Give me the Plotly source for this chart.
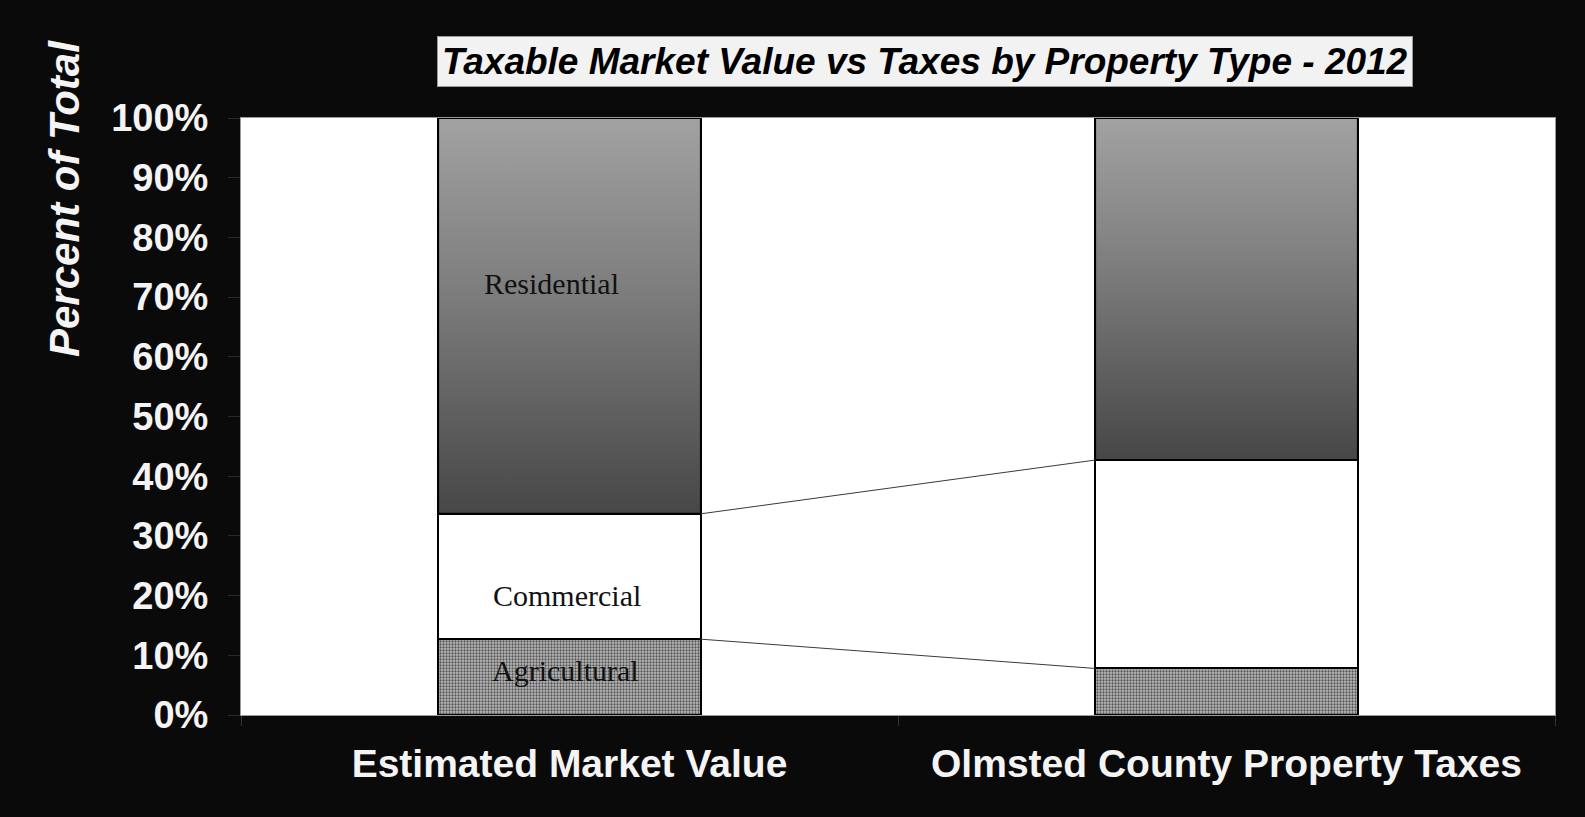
import plotly.graph_objects as go

# ---- data ----
categories = ["Estimated Market Value", "Olmsted County Property Taxes"]
agricultural = [0.127, 0.078]
commercial = [0.210, 0.349]
residential = [0.663, 0.573]
y_tick_vals = [0.0, 0.1, 0.2, 0.3, 0.4, 0.5, 0.6, 0.7, 0.8, 0.9, 1.0]
segment_names = ["Agricultural", "Commercial", "Residential"]
chart_title = "Taxable Market Value vs Taxes by Property Type - 2012"
y_title = "Percent of Total"

# ---- styling ----
BG = "#0a0a0a"
BAR_GAP = 0.6
HALF = (1 - BAR_GAP) / 2
SANS = "Liberation Sans, Arial, sans-serif"
SERIF = "Liberation Serif, Times New Roman, serif"

xs = list(range(len(categories)))
fig = go.Figure()

fig.add_trace(go.Bar(
    x=xs, y=agricultural, name=segment_names[0],
    marker=dict(color="#8a8a8a", line=dict(color="#000", width=2),
                pattern=dict(shape=".", size=3, solidity=0.45,
                             fgcolor="#555555", bgcolor="#bcbcbc", fillmode="replace")),
    hoverinfo="skip"))
fig.add_trace(go.Bar(
    x=xs, y=commercial, name=segment_names[1],
    marker=dict(color="#ffffff", line=dict(color="#000", width=2)),
    hoverinfo="skip"))
fig.add_trace(go.Bar(
    x=xs, y=residential, name=segment_names[2],
    marker=dict(color="#777777", line=dict(color="#000", width=2)),
    hoverinfo="skip"))

# gradient overlay for the residential segments (one per bar)
for i in xs:
    base = agricultural[i] + commercial[i]
    top = base + residential[i]
    fig.add_trace(go.Scatter(
        x=[i - HALF, i + HALF, i + HALF, i - HALF, i - HALF],
        y=[base, base, top, top, base],
        mode="lines", fill="toself",
        line=dict(color="#000", width=2),
        fillgradient=dict(type="vertical",
                          colorscale=[[0, "#474747"], [0.55, "#7c7c7c"], [1, "#a2a2a2"]]),
        hoverinfo="skip", showlegend=False))

# connector lines between segment boundaries
cum1 = [agricultural[i] for i in xs]
cum2 = [agricultural[i] + commercial[i] for i in xs]
for cum in (cum1, cum2):
    fig.add_trace(go.Scatter(
        x=[xs[0] + HALF, xs[1] - HALF], y=[cum[0], cum[1]],
        mode="lines", line=dict(color="#3a3a3a", width=1),
        hoverinfo="skip", showlegend=False))

# segment labels on first bar
label_pos = {"Residential": (0.722, -18), "Commercial": (0.200, -3), "Agricultural": (0.075, -4)}
for name, (yy, xsft) in label_pos.items():
    fig.add_annotation(x=xs[0], y=yy, text=name, showarrow=False, xshift=xsft,
                       font=dict(family=SERIF, size=30, color="#111"))

# title box
fig.add_annotation(xref="paper", yref="paper", x=(925 - 241) / 1314, y=(715 - 61.5) / 597,
                   text=f"<b><i>{chart_title}</i></b>", showarrow=False,
                   xanchor="center", yanchor="middle",
                   font=dict(family=SANS, size=37, color="#000"),
                   bgcolor="#f2f2f2", bordercolor="#9a9a9a", borderwidth=1, borderpad=4)

# y title
fig.add_annotation(xref="paper", yref="paper", x=(64 - 241) / 1314, y=(715 - 199) / 597,
                   text=f"<b><i>{y_title}</i></b>", showarrow=False, textangle=-90,
                   xanchor="center", yanchor="middle",
                   font=dict(family=SANS, size=42, color="#f4f4f4"))

fig.update_layout(
    barmode="stack", bargap=BAR_GAP,
    width=1585, height=817,
    margin=dict(l=241, r=30, t=118, b=102),
    paper_bgcolor=BG, plot_bgcolor="#ffffff",
    showlegend=False,
    xaxis=dict(range=[-0.5, 1.5], tickvals=xs, ticktext=[f"<b>{c}</b>" for c in categories],
               ticks="", showgrid=False, zeroline=False,
               showline=True, linecolor="#9a9a9a", linewidth=1, mirror=True,
               tickfont=dict(family=SANS, size=39, color="#f4f4f4"),
               ticklabelstandoff=14,
               minor=dict(tickmode="linear", tick0=-0.5, dtick=1, ticks="outside",
                          ticklen=10, tickcolor="#333", tickwidth=1, showgrid=False)),
    yaxis=dict(range=[0, 1], tickvals=y_tick_vals,
               ticktext=[f"<b>{round(v * 100)}%</b>" for v in y_tick_vals],
               ticks="outside", ticklen=12, tickcolor="#2a2a2a", tickwidth=1,
               showgrid=False, zeroline=False,
               showline=True, linecolor="#9a9a9a", linewidth=1, mirror=True,
               tickfont=dict(family=SANS, size=38, color="#f4f4f4"),
               ticklabelstandoff=12),
)

fig.write_html("out.html",
               config={"displayModeBar": False},
               post_script="document.body.style.margin='0';document.body.style.overflow='hidden';"
                           "document.body.style.background='" + BG + "';")
